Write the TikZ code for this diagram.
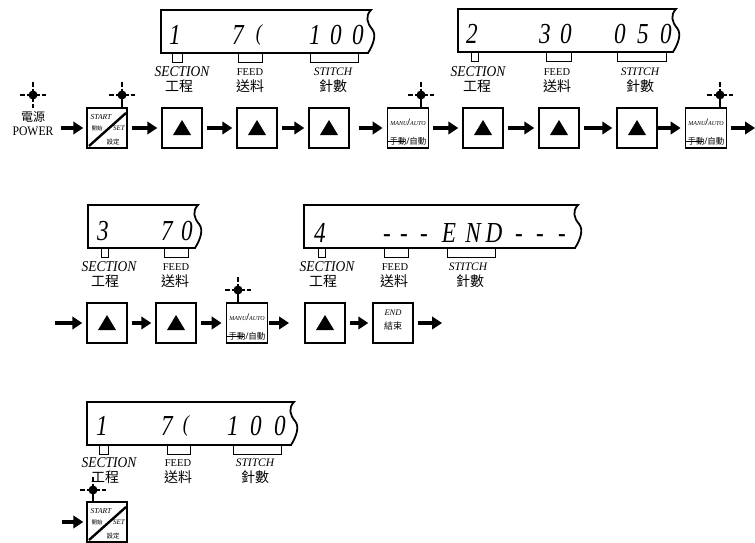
\documentclass[tikz,border=0pt]{standalone}
\usepackage{fontspec}
\setmainfont{Liberation Serif}
\newfontfamily\digf{Liberation Serif}[FakeStretch=0.8]
\newfontfamily\condf{Liberation Serif}[FakeStretch=0.9]
\newfontfamily\cjk{Noto Sans CJK TC}
\usetikzlibrary{arrows.meta}
\newcommand\fsz[1]{\fontsize{#1}{#1}\selectfont}
% display outline: left, top, right
\newcommand\lcdbox[3]{%
  \draw[lcd] (#1,#2) -- (#3,#2) .. controls +(-6,6) and +(-5,-6) .. (#3+1,#2+19)
    .. controls +(5,6) and +(5,-8) .. (#3-3,#2+43) -- (#1,#2+43) -- cycle;}
% bracket under display: x1, x2, display bottom
\newcommand\brkt[3]{\draw[brk] (#1,#3) -- (#1,#3+9) -- (#2,#3+9) -- (#2,#3);}
% crosshair: name, x, y
\newcommand\xhair[3]{%
  \node[xdot] (#1) at (#2,#3) {};
  \draw[xarm] (#1.center) ++(-6.5,0) -- ++(13,0);
  \draw[xarm] (#1.center) ++(0,-6.5) -- ++(0,13);
  \draw[xarm] (#1.center) ++(-13,0) -- ++(4.5,0);
  \draw[xarm] (#1.center) ++(8.5,0) -- ++(4.5,0);
  \draw[xarm] (#1.center) ++(0,-13) -- ++(0,4.5);
  \draw[xarm] (#1.center) ++(0,8.5) -- ++(0,4.5);}
% start/set button: name, x, y
\newcommand\startbtn[3]{%
  \node[btn] (#1) at (#2,#3) {};
  \draw[line width=2.4] (#1.center) ++(-18,18) -- ++(37,-33);
  \node[inner sep=0, font=\fsz{7.5}\itshape] at ([shift={(-6,-11)}]#1.center) {START};
  \node[inner sep=0, font=\fsz{5.5}\cjk] at ([shift={(-10,0)}]#1.center) {開始};
  \node[inner sep=0, font=\fsz{7}\itshape] at ([shift={(12,0)}]#1.center) {SET};
  \node[inner sep=0, font=\fsz{6.5}\cjk] at ([shift={(6,14)}]#1.center) {設定};}
% manual/auto button: name, x, y
\newcommand\manubtn[3]{%
  \node[btn, line width=1.8, minimum width=41] (#1) at (#2,#3) {};
  \node[inner sep=0] at ([shift={(0,-6)}]#1.center)
    {{\fsz{6}\itshape MANU}{\fsz{10}\bfseries/}{\fsz{6}\itshape AUTO}};
  \node[inner sep=0] at ([shift={(0,13)}]#1.center)
    {{\fsz{8.5}\cjk 手動}{\fsz{10}\bfseries/}{\fsz{8.5}\cjk 自動}};
  \draw[line width=0.6] ([shift={(0,13)}]#1.west) -- ++(18,0);}
\begin{document}
\begin{tikzpicture}[x=1pt,y=-1pt,
  btn/.style={draw, line width=1.4, minimum width=40, minimum height=40, inner sep=0},
  up/.style={btn, path picture={\fill (path picture bounding box.center) ++(-9,7) -- ++(18,0) -- ++(-9,-15) -- cycle;}},
  arr/.style={line width=3.8, -{Triangle[length=10pt,width=12.5pt]}, shorten <=4pt, shorten >=4pt},
  dig/.style={anchor=base, inner sep=0, font=\fsz{29}\digf\itshape},
  lab/.style={inner sep=0, font=\fsz{15}\condf\itshape},
  feed/.style={inner sep=0, font=\fsz{10.5}},
  stitch/.style={inner sep=0, font=\fsz{11.5}\itshape},
  cj/.style={inner sep=0, font=\fsz{14}\cjk},
  lcd/.style={line width=1.8},
  brk/.style={line width=0.9},
  xdot/.style={circle, fill, inner sep=0, minimum size=9},
  xarm/.style={line width=1.3},
]
\useasboundingbox (0,0) rectangle (755,543);

% ---------- display 1 ----------
\lcdbox{161}{10}{371}
\foreach \x/\c in {175/1,238/7,315/1,336/0,358/0} \node[dig] (d1-\x) at (\x,45) {\c};
\node[dig, font=\fsz{23}\digf\itshape] (d1p) at (259,41) {(};
\brkt{172}{182}{53} \brkt{238}{262}{53} \brkt{310}{358}{53}
\node[lab] (s1) at (182,71.5) {SECTION}; \node[cj] (s1c) at (179,86.5) {工程};
\node[feed] (f1) at (250,72) {FEED}; \node[cj] (f1c) at (250,86.5) {送料};
\node[stitch] (t1) at (333,72) {STITCH}; \node[cj] (t1c) at (333,86.5) {針數};

% ---------- display 2 ----------
\lcdbox{458}{9}{676}
\foreach \x/\c in {472/2,545/3,566/0,620/0,643/5,666/0} \node[dig] (d2-\x) at (\x,44) {\c};
\brkt{471}{478}{52} \brkt{546}{571}{52} \brkt{617}{666}{52}
\node[lab] (s2) at (478,71.5) {SECTION}; \node[cj] (s2c) at (477,86.5) {工程};
\node[feed] (f2) at (557,72) {FEED}; \node[cj] (f2c) at (557,86.5) {送料};
\node[stitch] (t2) at (640,72) {STITCH}; \node[cj] (t2c) at (640,86.5) {針數};

% ---------- row 1 ----------
\node[inner sep=0, font=\fsz{12}\cjk] (pwc) at (33,117) {電源};
\node[inner sep=0, font=\fsz{13}\condf] (pw) at (33,131) {POWER};
\xhair{h0}{33}{95}
\startbtn{st}{107}{128}
\node[up] (u1) at (182,128) {};
\node[up] (u2) at (257,128) {};
\node[up] (u3) at (329,128) {};
\manubtn{m1}{408}{128}
\node[up] (u4) at (483,128) {};
\node[up] (u5) at (559,128) {};
\node[up] (u6) at (637,128) {};
\manubtn{m2}{706}{128}
\coordinate (e1) at (755,128);
\xhair{h1}{122}{95} \draw[xarm] (h1) -- (h1 |- st.north);
\xhair{h2}{421}{95} \draw[xarm] (h2) -- (h2 |- m1.north);
\xhair{h3}{720}{95} \draw[xarm] (h3) -- (h3 |- m2.north);
\draw[arr, shorten <=7pt, shorten >=3pt] (pw.east |- st) -- (st);
\draw[arr] (st) -- (u1);
\draw[arr] (u1) -- (u2);
\draw[arr] (u2) -- (u3);
\draw[arr, shorten <=9pt] (u3) -- (m1);
\draw[arr] (m1) -- (u4);
\draw[arr] (u4) -- (u5);
\draw[arr] (u5) -- (u6);
\draw[arr, shorten <=0pt] (u6) -- (m2);
\draw[arr, shorten >=0pt] (m2) -- (e1);

% ---------- display 3 ----------
\lcdbox{88}{205}{198}
\foreach \x/\c in {103/3,167/7,187/0} \node[dig] (d3-\x) at (\x,240) {\c};
\brkt{101}{108}{248} \brkt{164}{188}{248}
\node[lab] (s3) at (109,266.5) {SECTION}; \node[cj] (s3c) at (105,281.5) {工程};
\node[feed] (f3) at (176,267) {FEED}; \node[cj] (f3c) at (175,281.5) {送料};

% ---------- display 4 ----------
\lcdbox{304}{205}{578}
\foreach \x/\c in {320/4,387/-,404/-,424/-,449/E,473/N,494/D,519/-,540/-,562/-}
  \node[dig] (d4-\x) at (\x,242) {\c};
\brkt{318}{325}{248} \brkt{384}{408}{248} \brkt{447}{495}{248}
\node[lab] (s4) at (327,266.5) {SECTION}; \node[cj] (s4c) at (323,281.5) {工程};
\node[feed] (f4) at (395,267) {FEED}; \node[cj] (f4c) at (394,281.5) {送料};
\node[stitch] (t4) at (468,267) {STITCH}; \node[cj] (t4c) at (470,281.5) {針數};

% ---------- row 2 ----------
\coordinate (c2) at (55,323);
\node[up] (a1) at (107,323) {};
\node[up] (a2) at (176,323) {};
\manubtn{mm}{247}{323}
\coordinate (c3) at (289,323);
\node[up] (a3) at (325,323) {};
\node[btn] (en) at (393,323) {};
\node[inner sep=0, font=\fsz{8.5}\itshape] (ent) at ([shift={(0,-10)}]en.center) {END};
\node[inner sep=0, font=\fsz{9}\cjk] (enc) at ([shift={(0,3)}]en.center) {結束};
\coordinate (c4) at (442,323);
\xhair{h4}{238}{290} \draw[xarm] (h4) -- (h4 |- mm.north);
\draw[arr, shorten <=0pt] (c2) -- (a1);
\draw[arr] (a1) -- (a2);
\draw[arr] (a2) -- (mm);
\draw[arr, shorten <=1pt, shorten >=0pt] (mm) -- (c3);
\draw[arr] (a3) -- (en);
\draw[arr, shorten >=0pt] (en) -- (c4);

% ---------- display 5 ----------
\lcdbox{87}{402}{294}
\foreach \x/\c in {102/1,167/7,233/1,256/0,280/0} \node[dig] (d5-\x) at (\x,435) {\c};
\node[dig, font=\fsz{23}\digf\itshape] (d5p) at (186,431) {(};
\brkt{99}{108}{445} \brkt{167}{190}{445} \brkt{233}{281}{445}
\node[lab] (s5) at (109,462.5) {SECTION}; \node[cj] (s5c) at (105,477.5) {工程};
\node[feed] (f5) at (178,463) {FEED}; \node[cj] (f5c) at (178,477.5) {送料};
\node[stitch] (t5) at (255,463) {STITCH}; \node[cj] (t5c) at (255,477.5) {針數};

% ---------- bottom ----------
\coordinate (c5) at (62,522);
\startbtn{sb}{107}{522}
\xhair{h5}{93}{490} \draw[xarm] (h5) -- (h5 |- sb.north);
\draw[arr, shorten <=0pt, shorten >=3pt] (c5) -- (sb);
\end{tikzpicture}
\end{document}
